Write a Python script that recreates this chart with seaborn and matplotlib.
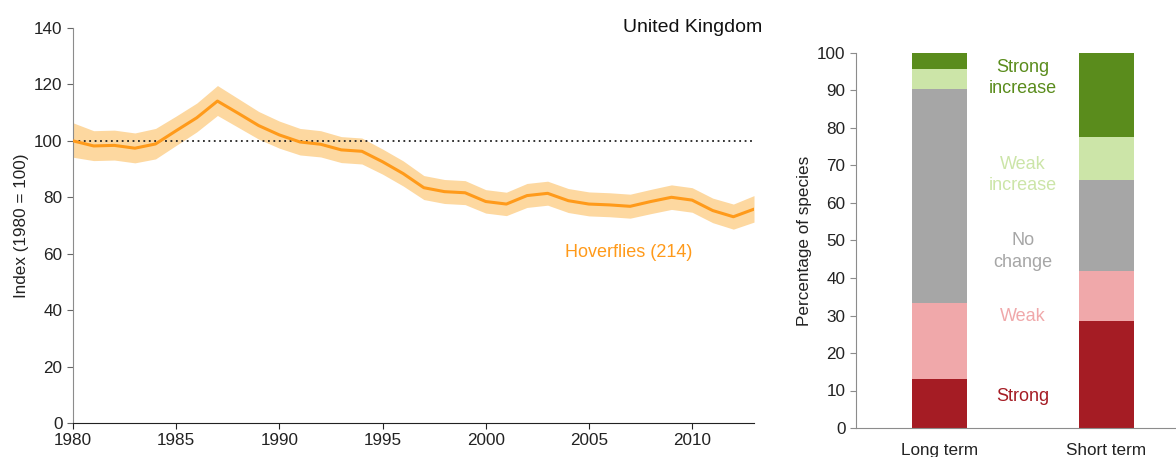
import numpy as np
import pandas as pd
import matplotlib
matplotlib.use("Agg")
import matplotlib.pyplot as plt
import seaborn as sns

# ---------------- data ----------------
years = list(range(1980, 2014))
index_vals = [100.0, 98.2, 98.4, 97.4, 98.9, 103.6, 108.2, 114.1, 109.8, 105.4,
              102.1, 99.6, 98.8, 96.8, 96.3, 92.6, 88.4, 83.4, 82.0, 81.6,
              78.5, 77.6, 80.6, 81.4, 78.8, 77.6, 77.3, 76.8, 78.5, 80.0,
              79.0, 75.3, 73.1, 75.8]
lower_vals = [94.2, 93.0, 93.2, 92.2, 93.6, 98.4, 103.2, 109.0, 104.8, 100.6,
              97.4, 95.0, 94.3, 92.3, 91.8, 88.2, 84.0, 79.2, 77.8, 77.4,
              74.4, 73.5, 76.4, 77.2, 74.6, 73.4, 73.1, 72.6, 74.2, 75.7,
              74.7, 71.0, 68.7, 71.2]
upper_vals = [106.4, 103.6, 103.8, 102.8, 104.4, 108.8, 113.4, 119.6, 115.0, 110.4,
              107.0, 104.4, 103.6, 101.5, 101.0, 97.1, 92.9, 87.7, 86.3, 85.9,
              82.7, 81.8, 84.9, 85.7, 83.1, 81.9, 81.6, 81.1, 82.8, 84.4,
              83.4, 79.7, 77.6, 80.6]

periods = ["Long term", "Short term"]
categories = ["Strong decrease", "Weak decrease", "No change", "Weak increase", "Strong increase"]
long_term = [13.0, 20.3, 57.0, 5.5, 4.2]
short_term = [28.6, 13.4, 24.0, 11.6, 22.4]
cat_colors = ["#A51C24", "#F0A8AA", "#A6A6A6", "#CCE5A8", "#5A8C1C"]
cat_labels = ["Strong", "Weak", "No\nchange", "Weak\nincrease", "Strong\nincrease"]
label_y = [8.5, 29.7, 47.0, 67.5, 93.3]

# ---------------- style ----------------
sns.set_style("white")
plt.rcParams['font.family'] = ['Liberation Sans', 'DejaVu Sans']

fig = plt.figure(figsize=(11.76, 4.57), dpi=100)

# ---------------- left: index line ----------------
ax1 = fig.add_axes([73/1176, 1 - 423/457, (754 - 73)/1176, (423 - 28)/457])
df_line = pd.DataFrame({"year": years, "index": index_vals,
                        "lower": lower_vals, "upper": upper_vals})
ax1.fill_between(df_line["year"], df_line["lower"], df_line["upper"],
                 color="#FDD8A0", linewidth=0, zorder=1)
sns.lineplot(data=df_line, x="year", y="index", ax=ax1, color="#FF9A1A",
             linewidth=2.2, zorder=3)
ax1.axhline(100, color="#222222", linestyle=(0, (1, 2)), linewidth=1.3, zorder=2)
ax1.set_xticks(range(1980, 2011, 5))
ax1.set_yticks(range(0, 141, 20))
ax1.set_xlim(1980, 2013)
ax1.set_ylim(0, 140)
ax1.set_xlabel("")
ax1.set_ylabel("Index (1980 = 100)", fontsize=12.3, color="#222222")
for s in ["top", "right"]:
    ax1.spines[s].set_visible(False)
ax1.spines["left"].set_color("#8C8C8C")
ax1.spines["bottom"].set_color("#222222")
ax1.tick_params(axis="both", labelsize=12.3, colors="#222222", length=4,
                direction="out", left=True, bottom=True)
ax1.tick_params(axis="y", colors="#666666", labelcolor="#222222")
ax1.text(1.012, 1.0, "United Kingdom", transform=ax1.transAxes, ha="right",
         va="center", fontsize=14, color="#111111")
ax1.text(2010.0, 60.5, "Hoverflies (214)", ha="right", va="center",
         fontsize=13, color="#FF9A1A")

# ---------------- right: stacked bars ----------------
ax2 = fig.add_axes([856/1176, 1 - 428/457, (1176 - 856)/1176, (428 - 53)/457])
cum_long = np.cumsum(long_term)
cum_short = np.cumsum(short_term)
for i in range(len(categories) - 1, -1, -1):
    df_bar = pd.DataFrame({"period": periods, "top": [cum_long[i], cum_short[i]]})
    sns.barplot(data=df_bar, x="period", y="top", ax=ax2, color=cat_colors[i],
                width=0.33, saturation=1, linewidth=0)
ax2.set_yticks(range(0, 101, 10))
ax2.set_xticks([0, 1])
ax2.set_xticklabels(periods)
ax2.set_xticks([-0.5, 0.5], minor=True)
ax2.set_xlim(-0.5, 1.42)
ax2.set_ylim(0, 100)
ax2.tick_params(axis="x", which="major", length=0, labelsize=12.3, pad=11,
                labelcolor="#222222")
ax2.tick_params(axis="x", which="minor", length=5, color="#8C8C8C", direction="out")
ax2.tick_params(axis="y", labelsize=12.3, length=4, color="#8C8C8C",
                direction="out", left=True, labelcolor="#222222")
ax2.set_xlabel("")
ax2.set_ylabel("Percentage of species", fontsize=12.3, color="#222222")
for s in ["top", "right"]:
    ax2.spines[s].set_visible(False)
ax2.spines["left"].set_color("#8C8C8C")
ax2.spines["bottom"].set_color("#8C8C8C")
for lab, yv, c in zip(cat_labels, label_y, cat_colors):
    ax2.text(0.5, yv, lab, ha="center", va="center", fontsize=13, color=c,
             linespacing=1.35)

fig.savefig("out.png", dpi=100)
